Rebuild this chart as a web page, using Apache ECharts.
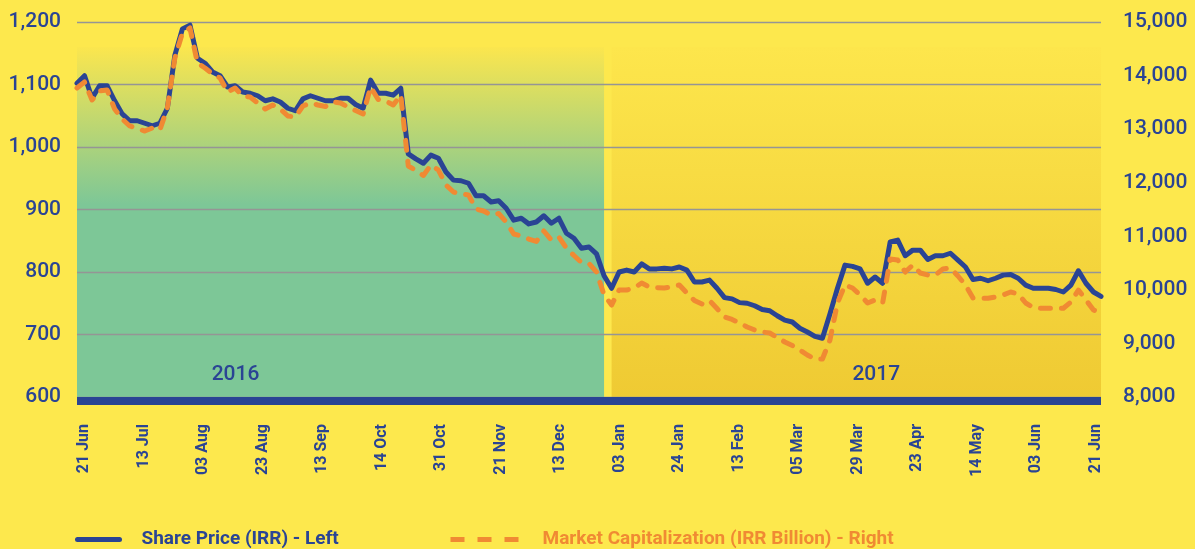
<!DOCTYPE html>
<html>
<head>
<meta charset="utf-8">
<script src="https://cdn.jsdelivr.net/npm/echarts@6/dist/echarts.min.js"></script>
<style>
  html, body { margin: 0; padding: 0; background: #FDE84D; }
  #chart { width: 1195px; height: 549px; }
</style>
</head>
<body>
<div id="chart"></div>
<script>
  // tick labels shown under the axis (every 8th point)
  var tickLabels = ['21 Jun', '13 Jul', '03 Aug', '23 Aug', '13 Sep', '14 Oct', '31 Oct', '21 Nov', '13 Dec',
    '03 Jan', '24 Jan', '13 Feb', '05 Mar', '29 Mar', '23 Apr', '14 May', '03 Jun', '21 Jun'];

  // share price (IRR), left axis
  var sharePrice = [
    1102, 1114, 1078, 1098, 1098, 1074, 1053, 1042, 1042, 1038,
    1034, 1038, 1062, 1147, 1189, 1195, 1142, 1134, 1120, 1114,
    1096, 1098, 1088, 1086, 1082, 1074, 1077, 1072, 1062, 1058,
    1077, 1082, 1078, 1074, 1074, 1078, 1078, 1068, 1062, 1107,
    1086, 1086, 1083, 1094, 989, 981, 974, 987, 982, 960,
    947, 946, 942, 922, 922, 912, 914, 902, 883, 886,
    877, 880, 890, 878, 886, 862, 854, 838, 840, 829,
    794, 774, 800, 803, 800, 813, 805, 805, 806, 805,
    808, 803, 784, 784, 787, 774, 759, 757, 751, 750,
    746, 740, 738, 730, 723, 720, 710, 704, 697, 694,
    733, 774, 811, 809, 805, 782, 792, 782, 848, 851,
    826, 835, 835, 820, 826, 826, 830, 819, 808, 788,
    790, 786, 790, 795, 796, 790, 779, 774, 774, 774,
    772, 768, 779, 802, 782, 768, 761
  ];

  // market capitalization (IRR billion), right axis
  var marketCap = [
    13768, 13880, 13544, 13712, 13731, 13376, 13189, 13059, 13012, 12965,
    13021, 12984, 13395, 14328, 14795, 14888, 14235, 14141, 14029, 13955,
    13693, 13768, 13619, 13600, 13488, 13376, 13451, 13376, 13245, 13227,
    13432, 13488, 13451, 13423, 13507, 13488, 13413, 13348, 13283, 13787,
    13553, 13525, 13451, 13637, 12312, 12228, 12135, 12331, 12237, 11957,
    11827, 11789, 11771, 11509, 11472, 11397, 11425, 11267, 11043, 11005,
    10949, 10903, 11099, 10931, 10987, 10781, 10641, 10511, 10492, 10333,
    9904, 9717, 9997, 9997, 10035, 10128, 10053, 10040, 10035, 10053,
    10091, 9941, 9801, 9736, 9801, 9652, 9493, 9447, 9381, 9307,
    9251, 9213, 9195, 9111, 9027, 8961, 8877, 8784, 8709, 8709,
    9064, 9755, 10091, 10035, 9904, 9755, 9811, 9755, 10576, 10557,
    10333, 10464, 10315, 10277, 10277, 10389, 10408, 10259, 10091, 9848,
    9843, 9843, 9867, 9904, 9960, 9923, 9755, 9671, 9656, 9656,
    9656, 9656, 9773, 9997, 9811, 9624, 9568
  ];

  // year bands: [label, first point, last point]
  var years = [['2016', 0, 70], ['2017', 71, 136]];

  var points = sharePrice.map(function (v, i) { return String(i); });

  var navy = '#2A4494';
  var orange = '#F08A33';
  var fmt = function (v) { return v.toLocaleString('en-US'); };

  var chart = echarts.init(document.getElementById('chart'));
  chart.setOption({
    animation: false,
    backgroundColor: '#FDE84D',
    textStyle: { fontFamily: 'Roboto' },
    grid: [
      { left: 77, right: 94, top: 22, height: 375 },
      { left: 84, right: 99, top: 22, height: 375 }
    ],
    legend: [
      {
        data: ['Share Price (IRR) - Left'],
        left: 70, top: 525,
        itemWidth: 42, itemHeight: 14,
        itemStyle: { opacity: 0 },
        lineStyle: { width: 5, cap: 'round' },
        textStyle: { color: navy, fontWeight: 'bold', fontSize: 19, padding: [0, 0, 0, 17] }
      },
      {
        data: ['Market Capitalization (IRR Billion) - Right'],
        left: 443, top: 525,
        itemWidth: 68, itemHeight: 14,
        itemStyle: { opacity: 0 },
        lineStyle: { width: 5, type: [14, 13], cap: 'butt' },
        textStyle: { color: orange, fontWeight: 'bold', fontSize: 19, padding: [0, 0, 0, 19] }
      }
    ],
    xAxis: [
      {
        type: 'category',
        data: points,
        boundaryGap: false,
        offset: 4,
        z: 2,
        axisLine: { lineStyle: { color: navy, width: 8, cap: 'butt' } },
        axisTick: { show: false },
        axisLabel: { show: false },
        splitLine: { show: false }
      },
      {
        type: 'category',
        gridIndex: 1,
        data: tickLabels,
        boundaryGap: false,
        axisLine: { show: false },
        axisTick: { show: false },
        axisLabel: {
          interval: 0, rotate: 90, margin: 27,
          color: navy, fontWeight: 'bold', fontSize: 16
        }
      }
    ],
    yAxis: [
      {
        type: 'value',
        min: 600, max: 1200, interval: 100,
        z: 2,
        axisLine: { show: false },
        axisTick: { show: false },
        axisLabel: { color: navy, fontSize: 21, fontWeight: 500, margin: 16, formatter: fmt },
        splitLine: { lineStyle: { color: '#959595', width: 1.3 } }
      },
      {
        type: 'value',
        min: 8000, max: 15000, interval: 1000,
        position: 'right',
        axisLine: { show: false },
        axisTick: { show: false },
        axisLabel: { color: navy, fontSize: 21, fontWeight: 500, margin: 22, formatter: fmt },
        splitLine: { show: false }
      },
      { type: 'value', gridIndex: 1, show: false }
    ],
    series: [
      {
        name: 'Share Price (IRR) - Left',
        type: 'line',
        data: sharePrice,
        yAxisIndex: 0,
        symbol: 'none',
        z: 3,
        lineStyle: { color: navy, width: 5, join: 'round', cap: 'round' },
        itemStyle: { color: navy },
        markArea: {
          silent: true,
          z: 1,
          data: [
            [
              {
                name: years[0][0], xAxis: points[years[0][1]], yAxis: 600,
                itemStyle: {
                  color: new echarts.graphic.LinearGradient(0, 0, 0, 1, [
                    { offset: 0, color: '#FBE64E' },
                    { offset: 0.45, color: '#7DC797' },
                    { offset: 1, color: '#7DC797' }
                  ])
                },
                label: { offset: [-105, 0] }
              },
              { xAxis: points[years[0][2]], yAxis: 1160 }
            ],
            [
              {
                name: years[1][0], xAxis: points[years[1][1]], yAxis: 600,
                itemStyle: {
                  color: new echarts.graphic.LinearGradient(0, 0, 0, 1, [
                    { offset: 0, color: '#FDE64C' },
                    { offset: 1, color: '#EFCA33' }
                  ])
                },
                label: { offset: [20, 0] }
              },
              { xAxis: points[years[1][2]], yAxis: 1160 }
            ]
          ],
          label: {
            show: true, position: 'insideBottom', distance: 12,
            color: navy, fontSize: 21, fontWeight: 500
          }
        }
      },
      {
        name: 'Market Capitalization (IRR Billion) - Right',
        type: 'line',
        data: marketCap,
        yAxisIndex: 1,
        symbol: 'none',
        z: 4,
        lineStyle: { color: orange, width: 5, type: [10, 11], cap: 'round', join: 'round' },
        itemStyle: { color: orange }
      }
    ]
  });
</script>
</body>
</html>
